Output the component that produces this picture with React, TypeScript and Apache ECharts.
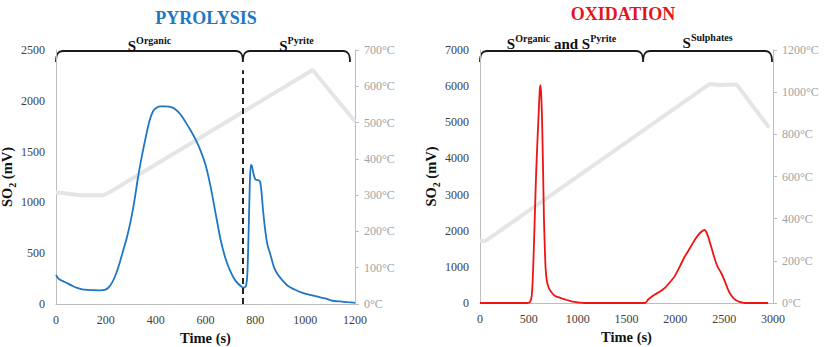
import React, { useEffect, useRef } from "react";
import * as echarts from "echarts";

// ---------- Pyrolysis run ----------
const pyroTime = [
  0, 10, 25, 45, 65, 85, 105, 125, 150, 175, 195, 210, 225, 240, 255, 270, 285, 300, 315, 330, 345, 360,
  375, 390, 405, 420, 440, 460, 480, 500, 520, 540, 560, 580, 600, 620, 640, 660, 680, 700, 720, 740, 752,
  762, 768, 774, 778, 782, 786, 792, 800, 810, 818, 824, 830, 838, 848, 860, 875, 890, 910, 930, 960, 990,
  1020, 1050, 1080, 1110, 1140, 1170, 1200,
];
const pyroSO2 = [
  285, 250, 228, 205, 180, 158, 145, 139, 136, 134, 138, 160, 210, 290, 400, 530, 660, 820, 1020, 1260, 1460, 1640,
  1800, 1900, 1935, 1945, 1945, 1940, 1915, 1865, 1790, 1710, 1620, 1510, 1370, 1160, 900, 640, 450, 320, 230, 180, 162,
  175, 300, 800, 1200, 1370, 1360, 1290, 1225, 1220, 1210, 1120, 950, 760, 590, 490, 360, 290, 230, 180, 140, 110,
  90, 72, 55, 32, 25, 18, 12,
];
const pyroTempTime = [0, 50, 100, 190, 215, 1030, 1200];
const pyroTemp = [308, 304, 300, 300, 308, 645, 503];

// ---------- Oxidation run ----------
const oxiTime = [
  0, 100, 300, 480, 510, 530, 545, 560, 575, 590, 600, 612, 620, 628, 636, 645, 655, 664, 672, 685, 700, 713,
  740, 765, 800, 840, 880, 920, 970, 1020, 1080, 1400, 1690, 1720, 1760, 1790, 1840, 1890, 1940, 1990, 2040,
  2100, 2150, 2200, 2250, 2300, 2320, 2340, 2370, 2400, 2430, 2470, 2510, 2540, 2570, 2600, 2640, 2680, 2720, 2950,
];
const oxiSO2 = [
  0, 0, 0, 0, 20, 200, 1000, 2300, 3600, 4600, 5200, 5900, 6030, 5700, 5000, 3800, 2300, 1500, 950, 600, 450, 370,
  270, 200, 160, 125, 90, 60, 30, 10, 0, 0, 0, 90, 180, 235, 310, 410, 560, 730, 980,
  1300, 1520, 1750, 1930, 2020, 1950, 1800, 1530, 1250, 1020, 830, 580, 370, 220, 120, 50, 15, 0, 0,
];
const oxiTempTime = [0, 40, 70, 120, 2352, 2450, 2628, 2960];
const oxiTemp = [297, 293, 298, 315, 1039, 1034, 1036, 832];

// ---------- Brace regions (seconds) and their labels ----------
const pyroBrace = { start: 0, split: 750, end: 1180 };
const oxiBrace = { start: 0, split: 1670, end: 2990 };
const pyroLabels = [
  { base: "S", sup: "Organic" },
  { base: "S", sup: "Pyrite" },
];
const oxiLabels = [
  { base: "S", sup: "Organic", tail: " and ", base2: "S", sup2: "Pyrite" },
  { base: "S", sup: "Sulphates" },
];

const SERIF = "Liberation Serif";
const AXIS_GREY = "#bdbdbd";
const TEMP_GREY = "#e5e5e5";

const zip = (xs: number[], ys: number[]) => xs.map((x, i) => [x, ys[i]]);

function valueAxis(grid: number, min: number, max: number, interval: number, margin: number, extra: any = {}) {
  return {
    gridIndex: grid,
    type: "value",
    min,
    max,
    interval,
    axisLine: { show: true, lineStyle: { color: AXIS_GREY, width: 1 } },
    axisTick: { show: false },
    splitLine: { show: false },
    axisLabel: {
      color: "#404040",
      fontFamily: SERIF,
      fontSize: 12,
      margin,
      formatter: (v: number) => String(v),
    },
    ...extra,
  };
}

function tempAxis(grid: number, max: number, interval: number) {
  return {
    gridIndex: grid,
    type: "value",
    position: "right",
    min: 0,
    max,
    interval,
    axisLine: { show: true, lineStyle: { color: AXIS_GREY, width: 1 } },
    axisTick: { show: true, length: 4, lineStyle: { color: AXIS_GREY } },
    splitLine: { show: false },
    axisLabel: {
      color: "#a3a3a3",
      fontFamily: SERIF,
      fontSize: 12,
      margin: 9,
      formatter: (v: number) => `${v}°C`,
    },
  };
}

const xName = {
  name: "Time (s)",
  nameLocation: "middle",
  nameGap: 26,
  nameTextStyle: { fontFamily: SERIF, fontWeight: "bold", fontSize: 14.5, lineHeight: 15, color: "#111" },
};

const yName = {
  name: "SO{sub|2} (mV)",
  nameLocation: "middle",
  nameGap: 39,
  nameTextStyle: {
    fontFamily: SERIF,
    fontWeight: "bold",
    fontSize: 14.5,
    color: "#111",
    rich: {
      sub: { fontFamily: SERIF, fontWeight: "bold", fontSize: 10, color: "#111", verticalAlign: "bottom", lineHeight: 20 },
    },
  },
};

const braceRich = {
  s: { fontFamily: SERIF, fontWeight: "bold", fontSize: 15, lineHeight: 18, verticalAlign: "bottom", fill: "#111" },
  sup: { fontFamily: SERIF, fontWeight: "bold", fontSize: 10, lineHeight: 11, verticalAlign: "top", fill: "#111" },
  t: { fontFamily: SERIF, fontWeight: "bold", fontSize: 15, lineHeight: 18, verticalAlign: "bottom", fill: "#111" },
};

function braceText(l: any) {
  let s = `{s|${l.base}}{sup|${l.sup}}`;
  if (l.tail) s += `{t|${l.tail}}{s|${l.base2}}{sup|${l.sup2}}`;
  return s;
}

function braceD(x0: number, xc: number, x1: number, ty: number, by: number) {
  return (
    `M${x0} ${by} C${x0} ${ty + 3} ${x0 + 2} ${ty} ${x0 + 7} ${ty} L${xc - 7} ${ty} ` +
    `C${xc - 2} ${ty} ${xc} ${ty + 3} ${xc} ${by} C${xc} ${ty + 3} ${xc + 2} ${ty} ${xc + 7} ${ty} ` +
    `L${x1 - 7} ${ty} C${x1 - 2} ${ty} ${x1} ${ty + 3} ${x1} ${by}`
  );
}

export default function App() {
  const ref = useRef<HTMLDivElement>(null);

  useEffect(() => {
    if (!ref.current) return;
    const chart = echarts.init(ref.current, undefined, { renderer: "svg" });

    chart.setOption({
      animation: false,
      backgroundColor: "#ffffff",
      textStyle: { fontFamily: SERIF },
      grid: [
        { left: 56, top: 50, width: 299, height: 254, containLabel: false, outerBoundsMode: "none" },
        { left: 480, top: 50, width: 293, height: 253, containLabel: false, outerBoundsMode: "none" },
      ],
      xAxis: [valueAxis(0, 0, 1200, 200, 10, xName), valueAxis(1, 0, 3000, 500, 10, xName)],
      yAxis: [
        valueAxis(0, 0, 2500, 500, 11, yName),
        tempAxis(0, 700, 100),
        valueAxis(1, 0, 7000, 1000, 11, yName),
        tempAxis(1, 1200, 200),
      ],
      series: [
        {
          type: "line",
          xAxisIndex: 0,
          yAxisIndex: 1,
          data: zip(pyroTempTime, pyroTemp),
          showSymbol: false,
          silent: true,
          z: 1,
          lineStyle: { color: TEMP_GREY, width: 4 },
        },
        {
          type: "line",
          xAxisIndex: 0,
          yAxisIndex: 0,
          data: zip(pyroTime, pyroSO2),
          showSymbol: false,
          smooth: 0.25,
          z: 3,
          lineStyle: { color: "#1f77c4", width: 1.8 },
          markLine: {
            silent: true,
            symbol: "none",
            label: { show: false },
            lineStyle: { color: "#222", type: [6, 4], width: 2 },
            data: [[{ coord: [pyroBrace.split, 0] }, { coord: [pyroBrace.split, 2300] }]],
          },
        },
        {
          type: "line",
          xAxisIndex: 1,
          yAxisIndex: 3,
          data: zip(oxiTempTime, oxiTemp),
          showSymbol: false,
          silent: true,
          z: 1,
          lineStyle: { color: TEMP_GREY, width: 4 },
        },
        {
          type: "line",
          xAxisIndex: 1,
          yAxisIndex: 2,
          data: zip(oxiTime, oxiSO2),
          showSymbol: false,
          smooth: 0.25,
          z: 3,
          lineStyle: { color: "#ee1414", width: 1.8 },
        },
      ],
    });

    // Braces and region labels placed from the axes' own scales
    const px = (grid: number, t: number) => chart.convertToPixel({ xAxisIndex: grid }, t) as number;
    const top0 = chart.convertToPixel({ yAxisIndex: 0 }, 2500) as number;
    const top1 = chart.convertToPixel({ yAxisIndex: 2 }, 7000) as number;

    const b0 = pyroBrace;
    const b1 = oxiBrace;
    const p0 = [px(0, b0.start), px(0, b0.split), px(0, b0.end)];
    const p1 = [px(1, b1.start), px(1, b1.split), px(1, b1.end)];
    echarts.graphic.registerShape("bracePyro", echarts.graphic.extendPath(braceD(p0[0], p0[1], p0[2], top0 + 1, top0 + 12), {}));
    echarts.graphic.registerShape("braceOxi", echarts.graphic.extendPath(braceD(p1[0], p1[1], p1[2], top1 + 1, top1 + 12), {}));

    const braceStyle = { stroke: "#1a1a1a", lineWidth: 1.8, fill: "none" };
    const label = (x: number, y: number, l: any) => ({
      type: "text",
      x,
      y,
      style: { text: braceText(l), rich: braceRich, align: "center", verticalAlign: "bottom" },
    });

    chart.setOption({
      graphic: [
        { type: "bracePyro", silent: true, style: braceStyle },
        { type: "braceOxi", silent: true, style: braceStyle },
        label((p0[0] + p0[1]) / 2, top0 + 3, pyroLabels[0]),
        label((p0[1] + p0[2]) / 2, top0 + 3, pyroLabels[1]),
        label((p1[0] + p1[1]) / 2, top1 + 1, oxiLabels[0]),
        label((p1[1] + p1[2]) / 2, top1, oxiLabels[1]),
        {
          type: "text",
          x: 206,
          y: 8.5,
          style: { text: "PYROLYSIS", fill: "#1f78c1", font: `bold 18px ${SERIF}`, align: "center", verticalAlign: "top" },
        },
        {
          type: "text",
          x: 623,
          y: 4.5,
          style: { text: "OXIDATION", fill: "#e8141c", font: `bold 18px ${SERIF}`, align: "center", verticalAlign: "top" },
        },
      ],
    });

    return () => chart.dispose();
  }, []);

  return (
    <div
      ref={ref}
      style={{ position: "absolute", left: 0, top: 0, width: 830, height: 347, background: "#fff" }}
    />
  );
}
